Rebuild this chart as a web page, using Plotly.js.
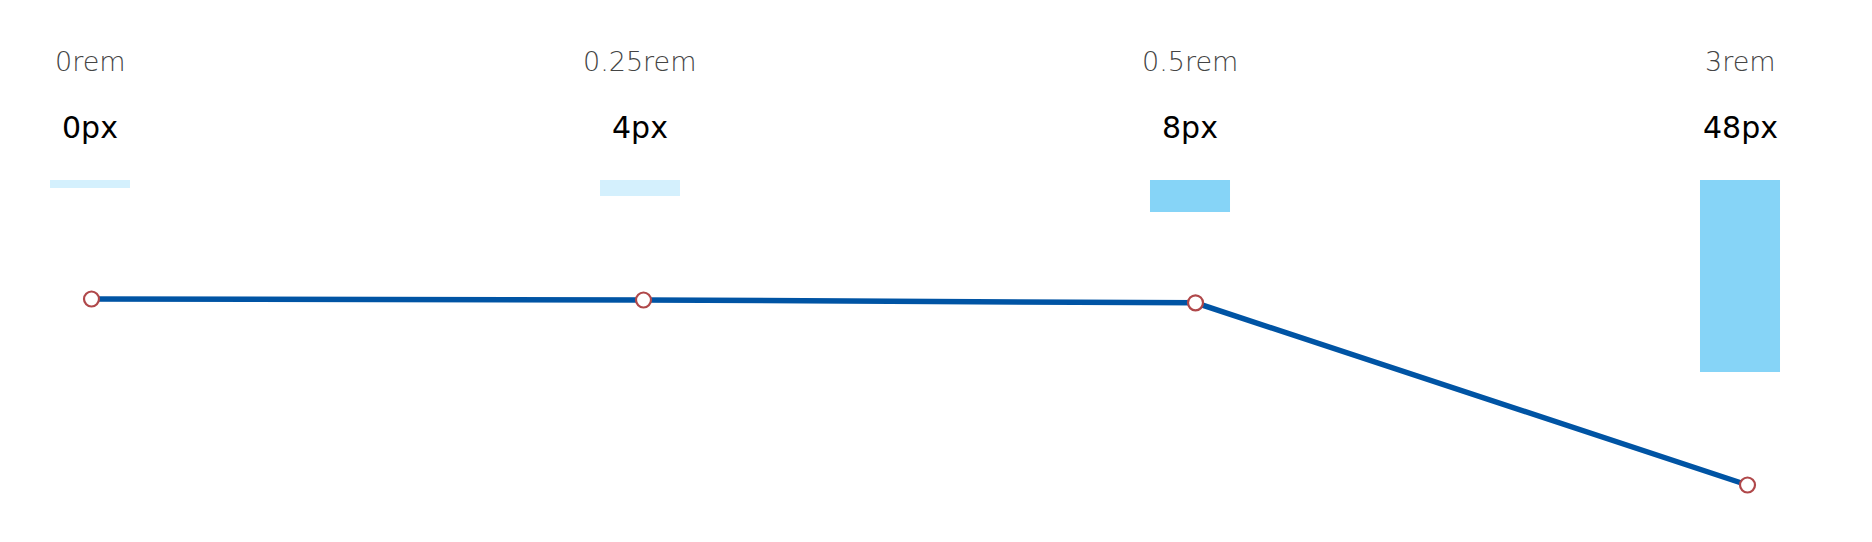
<!DOCTYPE html>
<html>
<head>
<meta charset="utf-8">
<script src="https://cdn.plot.ly/plotly-3.0.1.min.js"></script>
<style>
  html, body { margin: 0; padding: 0; background: #ffffff; }
  #chart { width: 1872px; height: 542px; }
</style>
</head>
<body>
<div id="chart"></div>
<script>
// ---- data ----
const categories = ["0rem", "0.25rem", "0.5rem", "3rem"];
const pxLabels = ["0px", "4px", "8px", "48px"];
const barValues = [2, 4, 8, 48];          // rendered bar length (px / 4 scale)
const barColors = ["#d4f0fd", "#d4f0fd", "#86d4f7", "#86d4f7"];
const lineValues = [0, 1, 3.8, 186];      // drop of the line below its start

const idx = categories.map((c, i) => i);

const barTrace = {
  type: "bar",
  x: idx,
  y: barValues,
  base: 0,
  width: 0.1455,
  marker: { color: barColors, line: { width: 0 } },
  hoverinfo: "skip",
  xaxis: "x",
  yaxis: "y"
};

const lineTrace = {
  type: "scatter",
  mode: "lines+markers",
  x: idx,
  y: lineValues,
  line: { color: "#0054a4", width: 5.5 },
  marker: { size: 15, color: "#ffffff", line: { color: "#b0484a", width: 2.2 } },
  hoverinfo: "skip",
  xaxis: "x2",
  yaxis: "y2"
};

const annotations = [];
categories.forEach((c, i) => {
  annotations.push({
    x: i, xref: "x", y: 1 - 61 / 542, yref: "paper",
    text: c, showarrow: false, xanchor: "center", yanchor: "middle",
    font: { family: "DejaVu Sans", size: 27, color: "#444444", weight: 200 }
  });
  annotations.push({
    x: i, xref: "x", y: 1 - 127 / 542, yref: "paper",
    text: pxLabels[i], showarrow: false, xanchor: "center", yanchor: "middle",
    font: { family: "DejaVu Sans", size: 30, color: "#000000" }
  });
});

const hidden = { visible: false, showgrid: false, zeroline: false, showticklabels: false, fixedrange: true };

const layout = {
  width: 1872,
  height: 542,
  margin: { l: 0, r: 0, t: 0, b: 0, pad: 0 },
  paper_bgcolor: "#ffffff",
  plot_bgcolor: "#ffffff",
  showlegend: false,
  xaxis: Object.assign({}, hidden, { type: "linear", range: [-90 / 550, (1872 - 90) / 550] }),
  xaxis2: Object.assign({}, hidden, { type: "linear", overlaying: "x", range: [-91.5 / 552, (1872 - 91.5) / 552] }),
  yaxis: Object.assign({}, hidden, { range: [(542 - 180) / 4, -180 / 4] }),
  yaxis2: Object.assign({}, hidden, { overlaying: "y", range: [542 - 299, -299] }),
  annotations: annotations
};

Plotly.newPlot("chart", [barTrace, lineTrace], layout, { displayModeBar: false, staticPlot: true });
</script>
</body>
</html>
